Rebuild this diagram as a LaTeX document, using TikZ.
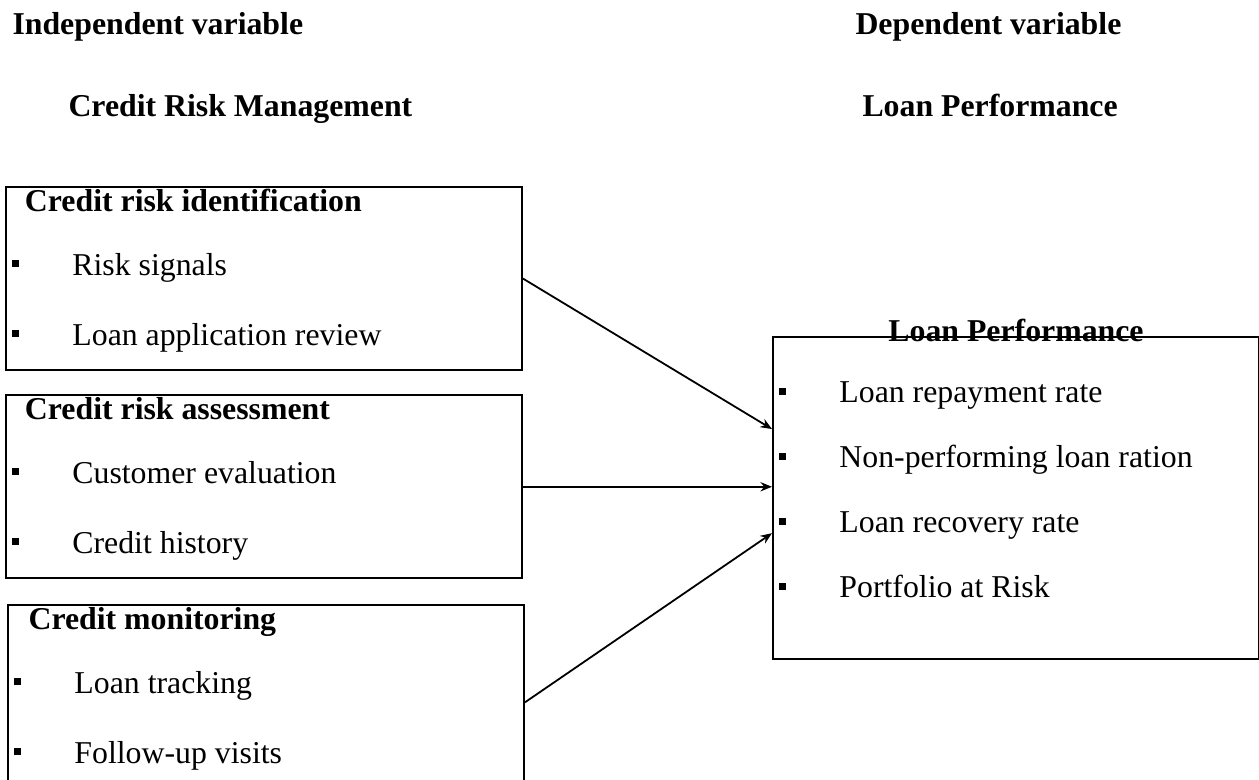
\documentclass[tikz,border=0pt]{standalone}
\usepackage{fontspec}
\setmainfont{Liberation Serif}
\usepackage{tikz}
\usetikzlibrary{positioning,arrows.meta}
\tikzstyle{factor} = [rectangle, draw=black, line width=0.8pt, inner sep=0pt, anchor=north west]
\tikzstyle{heading} = [anchor=base west, inner sep=0pt, font=\fontsize{12.4}{15}\selectfont\bfseries]
\tikzstyle{connect} = [line width=0.7pt,-{Stealth[length=4.5pt,width=3.6pt]}]
\newcommand{\bul}{\hspace*{2.3pt}\rule[3.2pt]{2.8pt}{2.8pt}\hspace{20.8pt}}
\newcommand{\factortext}[4][7.4pt]{\parbox[t][71.4pt][t]{201.2pt}{\setlength{\parskip}{0pt}\fontsize{12.4}{27.3}\selectfont\rule{0pt}{9.4pt}\hspace*{#1}\textbf{#2}\par\vspace{-2.3pt}\bul #3\par\bul #4}}
\newcommand{\perftext}[4]{\parbox[t][125.6pt][t]{189.5pt}{\setlength{\parskip}{0pt}\fontsize{12.4}{25.35}\selectfont\rule{0pt}{25.7pt}\bul #1\par\bul #2\par\bul #3\par\bul #4}}

\begin{document}
\begin{tikzpicture}[x=0.39pt, y=-0.39pt, node distance=9pt]
		\useasboundingbox (0,0) rectangle (1259,780);
		\node (indep) [heading] at (12,35) {Independent variable};
		\node (crm) [heading] at (68,117) {Credit Risk Management};
		\node (dep) [heading] at (855,35) {Dependent variable};
		\node (lp) [heading] at (862,117) {Loan Performance};

		\node (ident) [factor] at (5,186) {\factortext{Credit risk identification}{Risk signals}{Loan application review}};
		\node (assess) [factor, below=9pt of ident] {\factortext{Credit risk assessment}{Customer evaluation}{Credit history}};
		\node (monitor) [factor, below=9.75pt of assess, xshift=0.8pt] {\factortext[8pt]{Credit monitoring}{Loan tracking}{Follow-up visits}};
		\node (perf) [factor] at (772,336) {\perftext{Loan repayment rate}{Non-performing loan ration}{Loan recovery rate}{Portfolio at Risk}};
		\node (perftitle) [anchor=base, inner sep=0pt, font=\fontsize{12.4}{15}\selectfont\bfseries] at ([yshift=-2.3pt]perf.north) {Loan Performance};

		\draw [connect] (ident.east) -- ([yshift=26.9pt]perf.west);
		\draw [connect] (assess.east) -- (assess.east -| perf.west);
		\draw [connect] ([yshift=-2.1pt]monitor.east) -- ([yshift=-13.7pt]perf.west);
\end{tikzpicture}
\end{document}
